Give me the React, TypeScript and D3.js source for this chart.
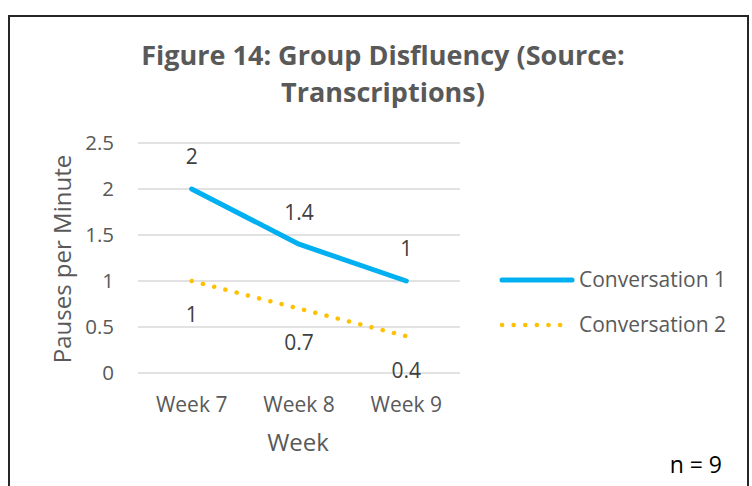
import * as d3 from "d3";
import React from "react";

const weeks = ["Week 7", "Week 8", "Week 9"];
const conversation1 = [2, 1.4, 1];
const conversation2 = [1, 0.7, 0.4];
const seriesNames = ["Conversation 1", "Conversation 2"];
const yTicks = [0, 0.5, 1, 1.5, 2, 2.5];

const font = "'Open Sans', sans-serif";
const grey = "#595959";

export default function App() {
    // plot area
    const x = d3.scalePoint<string>().domain(weeks).range([138, 460]).padding(0.5);
    const y = d3.scaleLinear().domain([0, 2.5]).range([373, 143]);

    const line = d3.line<number>()
        .x((_, i) => x(weeks[i])!)
        .y(d => y(d));

    return (
        <svg width={752} height={486} style={{ position: "absolute", left: 0, top: 0, background: "#fff" }}>
            <rect x={9} y={16} width={739} height={500} fill="#fff" stroke="#262626" strokeWidth={2} />
            <text x={383} y={56} dy="0.35em" textAnchor="middle" fontFamily={font} fontWeight="bold" fontSize={27} fill={grey}>
                Figure 14: Group Disfluency (Source:
            </text>
            <text x={383} y={93} dy="0.35em" textAnchor="middle" fontFamily={font} fontWeight="bold" fontSize={27} fill={grey}>
                Transcriptions)
            </text>

            {yTicks.map(t => (
                <g key={t}>
                    <line x1={138} x2={460} y1={y(t)} y2={y(t)} stroke="#d9d9d9" strokeWidth={1.3} />
                    <text x={114} y={y(t)} dy="0.35em" textAnchor="end" fontFamily={font} fontSize={20.5} fill={grey}>
                        {t}
                    </text>
                </g>
            ))}

            {weeks.map(w => (
                <text key={w} x={x(w)} y={405} dy="0.35em" textAnchor="middle" fontFamily={font} fontSize={21} fill={grey}>
                    {w}
                </text>
            ))}

            <text x={298} y={443} dy="0.35em" textAnchor="middle" fontFamily={font} fontSize={24} fill={grey}>Week</text>
            <text transform="translate(63,259) rotate(-90)" dy="0.35em" textAnchor="middle" fontFamily={font} fontSize={24} fill={grey}>
                Pauses per Minute
            </text>

            <path d={line(conversation1)!} fill="none" stroke="#00b0f0" strokeWidth={5} strokeLinecap="round" strokeLinejoin="round" />
            <path d={line(conversation2)!} fill="none" stroke="#ffc000" strokeWidth={4.5} strokeLinecap="round" strokeDasharray="0.1 11.5" />

            {conversation1.map((v, i) => (
                <text key={"a" + i} x={x(weeks[i])} y={y(v) - 32} dy="0.35em" textAnchor="middle" fontFamily={font} fontSize={21} fill="#404040">
                    {v}
                </text>
            ))}
            {conversation2.map((v, i) => (
                <text key={"b" + i} x={x(weeks[i])} y={y(v) + 34} dy="0.35em" textAnchor="middle" fontFamily={font} fontSize={21} fill="#404040">
                    {v}
                </text>
            ))}

            {/* legend */}
            <line x1={502} x2={572} y1={280} y2={280} stroke="#00b0f0" strokeWidth={5} strokeLinecap="round" />
            <text x={579} y={280} dy="0.35em" fontFamily={font} fontSize={21} fill={grey}>{seriesNames[0]}</text>
            <line x1={502} x2={568} y1={325} y2={325} stroke="#ffc000" strokeWidth={4.5} strokeLinecap="round" strokeDasharray="0.1 11.5" />
            <text x={579} y={325} dy="0.35em" fontFamily={font} fontSize={21} fill={grey}>{seriesNames[1]}</text>

            <text x={722} y={465} dy="0.35em" textAnchor="end" fontFamily={font} fontSize={23} fill="#000">n = 9</text>
        </svg>
    );
}
